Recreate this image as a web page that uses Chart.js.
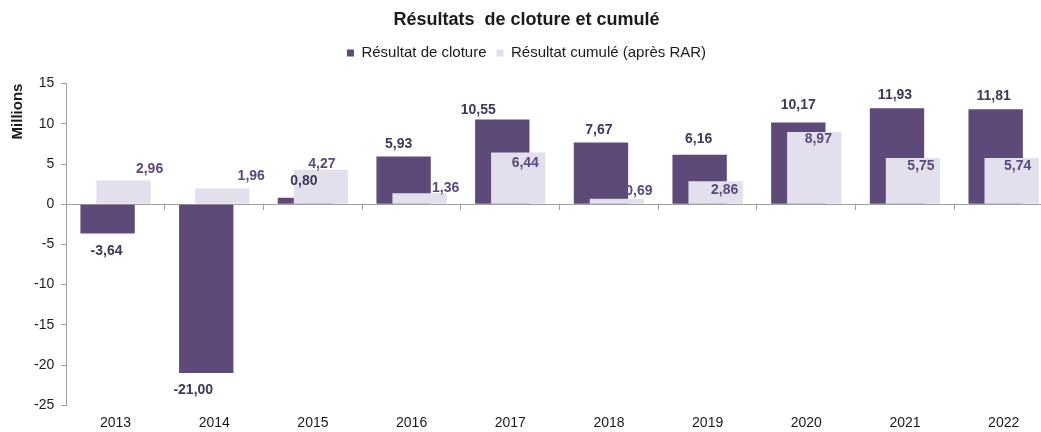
<!DOCTYPE html>
<html>
<head>
<meta charset="utf-8">
<script src="https://cdn.jsdelivr.net/npm/chart.js@4/dist/chart.umd.min.js"></script>
<style>
    html, body { margin: 0; padding: 0; background: #fff; overflow: hidden; }
    .chart-box { position: relative; width: 1060px; height: 442px; }
</style>
</head>
<body>
<div class="chart-box"><canvas id="resultChart"></canvas></div>
<script>
// Data
const years = ['2013', '2014', '2015', '2016', '2017', '2018', '2019', '2020', '2021', '2022'];
const clotureValues = [-3.64, -21.00, 0.80, 5.93, 10.55, 7.67, 6.16, 10.17, 11.93, 11.81];
const cumuleValues = [2.96, 1.96, 4.27, 1.36, 6.44, 0.69, 2.86, 8.97, 5.75, 5.74];
const yTicks = [-25, -20, -15, -10, -5, 0, 5, 10, 15];

// Label nudges (px) relative to the bar end, as placed by hand in the original
const clotureShift = [[-1, 18], [-13, 17], [-1, -17], [-5, -12], [-24, -9], [-2, -12], [-1, -16], [0, -17], [-2, -13], [-2, -13]];
const cumuleShift = [[26, -11], [29, -12], [1, -6], [26, -5], [7, 11], [22, -8], [9, 9], [4, 7], [8, 8], [6, 8]];

const darkPurple = '#5e4a79';
const lightLilac = '#e4dfec';
const axisGrey = '#a0a0a0';

Chart.defaults.font.family = '"Liberation Sans", Arial, sans-serif';
Chart.defaults.color = '#1a1a1a';

const fmt = v => v.toFixed(2).replace('.', ',');

// Value labels drawn on top of the bars
const barLabels = {
    id: 'barLabels',
    afterDatasetsDraw(chart) {
        const ctx = chart.ctx;
        const colors = ['#3f3858', '#5b4a7c'];
        const shifts = [clotureShift, cumuleShift];
        ctx.save();
        ctx.font = 'bold 14px "Liberation Sans", Arial, sans-serif';
        ctx.textAlign = 'center';
        ctx.textBaseline = 'middle';
        chart.data.datasets.forEach((ds, di) => {
            const meta = chart.getDatasetMeta(di);
            meta.data.forEach((bar, i) => {
                const [dx, dy] = shifts[di][i];
                ctx.fillStyle = colors[di];
                ctx.fillText(fmt(ds.data[i]), bar.x + dx, bar.y + dy);
            });
        });
        ctx.restore();
    }
};

// Dark bars sit on the left but must be painted under the light ones
const darkUnder = {
    id: 'darkUnder',
    beforeDatasetDraw(chart, args) {
        if (args.index === 1) {
            chart.getDatasetMeta(0).controller.draw();
        } else if (args.index === 0) {
            return false;
        }
    }
};

// Extra room under the legend
const legendGap = {
    id: 'legendGap',
    beforeInit(chart) {
        const fit = chart.legend.fit;
        chart.legend.fit = function () {
            fit.bind(chart.legend)();
            this.height += 13;
        };
    }
};

const ctx = document.getElementById('resultChart').getContext('2d');

new Chart(ctx, {
    type: 'bar',
    data: {
        labels: years,
        datasets: [{
            label: 'Résultat de cloture',
            data: clotureValues,
            backgroundColor: darkPurple,
            categoryPercentage: 0.324,
            barPercentage: 3.4
        }, {
            label: 'Résultat cumulé (après RAR)',
            data: cumuleValues,
            backgroundColor: lightLilac,
            categoryPercentage: 0.324,
            barPercentage: 3.4
        }]
    },
    options: {
        responsive: true,
        maintainAspectRatio: false,
        animation: false,
        layout: { padding: { left: 0, right: 7, top: 0, bottom: 0 } },
        plugins: {
            title: {
                display: true,
                text: 'Résultats  de cloture et cumulé',
                color: '#1a1a1a',
                font: { size: 18, weight: 'bold' },
                padding: { top: 9, bottom: 5 }
            },
            legend: {
                display: true,
                labels: {
                    boxWidth: 7,
                    boxHeight: 7,
                    padding: 10,
                    color: '#1a1a1a',
                    font: { size: 15 }
                }
            },
            tooltip: { enabled: false }
        },
        scales: {
            x: {
                grid: { display: false, drawTicks: false },
                border: { display: false },
                ticks: { padding: 10, font: { size: 14 }, color: '#1a1a1a' }
            },
            x2: {
                type: 'category',
                labels: years,
                position: { y: 0 },
                offset: true,
                grid: { offset: true, drawOnChartArea: false, drawTicks: true, tickLength: 5, color: axisGrey },
                border: { display: true, color: axisGrey },
                ticks: { display: false }
            },
            y: {
                min: -25,
                max: 15,
                afterBuildTicks: axis => { axis.ticks = yTicks.map(v => ({ value: v })); },
                grid: { drawOnChartArea: false, drawTicks: true, tickLength: 5, color: axisGrey },
                border: { display: true, color: axisGrey },
                ticks: { padding: 7, font: { size: 14 }, color: '#1a1a1a' },
                title: {
                    display: true,
                    text: 'Millions',
                    align: 'end',
                    color: '#1a1a1a',
                    font: { size: 15, weight: 'bold' },
                    padding: { top: 9, bottom: 0 }
                }
            }
        }
    },
    plugins: [barLabels, darkUnder, legendGap]
});
</script>
</body>
</html>
